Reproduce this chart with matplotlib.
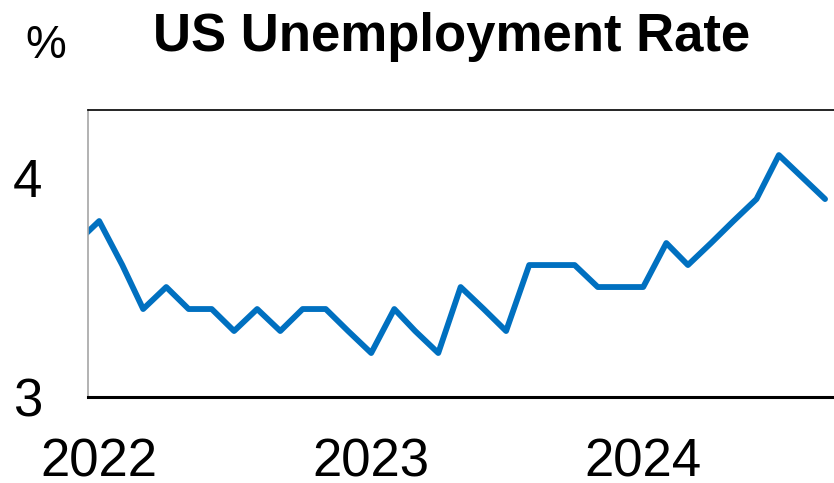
import pandas as pd
import matplotlib
matplotlib.use("Agg")
import matplotlib.pyplot as plt

# Monthly unemployment rate, Dec 2021 .. Sep 2024
months = pd.date_range("2021-12-01", "2024-09-01", freq="MS")
rate = [3.7,
        3.8, 3.6, 3.4, 3.5, 3.4, 3.4, 3.3, 3.4, 3.3, 3.4, 3.4, 3.3,   # 2022
        3.2, 3.4, 3.3, 3.2, 3.5, 3.4, 3.3, 3.6, 3.6, 3.6, 3.5, 3.5,   # 2023
        3.5, 3.7, 3.6, 3.7, 3.8, 3.9, 4.1, 4.0, 3.9]                  # 2024
year_ticks = pd.to_datetime(["2022-01-01", "2023-01-01", "2024-01-01"])
year_labels = ["2022", "2023", "2024"]

plt.rcParams['font.family'] = ['Liberation Sans', 'DejaVu Sans']

fig = plt.figure(figsize=(8.34, 4.83), dpi=100)
ax = fig.add_axes([88/834, 86/483, 1 - 88/834, 287/483])

ax.plot(months, rate, color='#0070C0', linewidth=4.2,
        solid_joinstyle='round', solid_capstyle='round')

ax.set_xlim(pd.Timestamp("2021-12-17"), pd.Timestamp("2024-09-13"))
ax.set_ylim(3, 4.305)
ax.set_yticks([3, 4])
ax.set_yticklabels(["3", "4"], fontsize=38)
ax.set_xticks(year_ticks)
ax.set_xticklabels(year_labels, fontsize=38)
ax.tick_params(axis='both', length=0)
ax.tick_params(axis='x', pad=29)
ax.tick_params(axis='y', pad=33)

ax.spines['right'].set_visible(False)
ax.spines['top'].set_color('black')
ax.spines['top'].set_linewidth(1.2)
ax.spines['left'].set_color('#a6a6a6')
ax.spines['left'].set_linewidth(1.2)
ax.spines['bottom'].set_color('black')
ax.spines['bottom'].set_linewidth(2.2)

fig.text(452/834, 1 - 37/483, "US Unemployment Rate", fontsize=38, fontweight='bold',
         ha='center', va='center')
fig.text(46/834, 1 - 46/483, "%", fontsize=33, ha='center', va='center')

fig.savefig("out.png", dpi=100)
